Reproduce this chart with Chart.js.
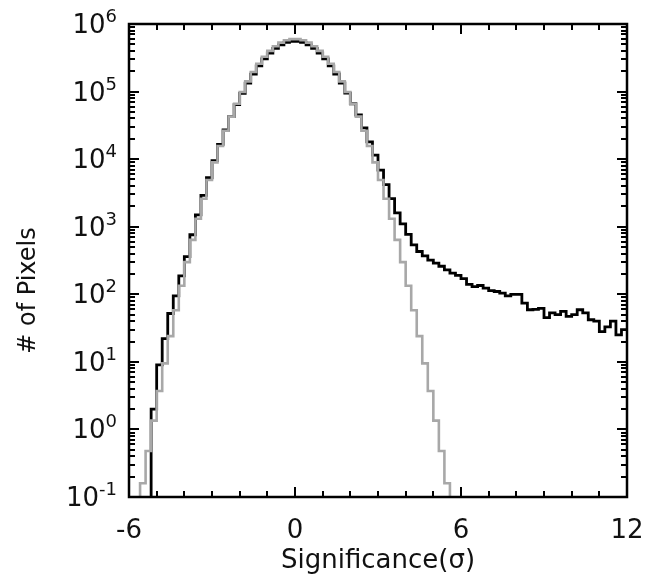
<!DOCTYPE html>
<html>
<head>
<meta charset="utf-8">
<script src="https://cdn.jsdelivr.net/npm/chart.js@4.4.1/dist/chart.umd.min.js"></script>
<style>
  html, body { margin: 0; padding: 0; background: #fff; }
  #wrap { width: 645px; height: 580px; position: relative; }
</style>
</head>
<body>
<div id="wrap"><canvas id="histChart"></canvas></div>
<script>
// histogram bins: 0.2 sigma wide, -6 .. 12
const binStart = -6;
const binWidth = 0.2;
const binCount = 90;

// observed pixel counts per bin (black)
const dataCounts = [
  0, 0, 0, 0,
  2, 9, 22, 52, 95, 187, 360, 760, 1500, 2900, 5300, 9500, 16500, 27000,
  42500, 64000, 94000, 133000, 181000, 240000, 305000, 372000, 436000,
  492000, 533000, 555000,
  555000, 533000, 492000, 436000, 372000, 305000, 240000, 182000, 134000,
  95000, 66000, 45000, 29000, 18000, 11500, 6900, 4200, 2600, 1600, 1100,
  770, 540, 430,
  370, 320, 290, 260, 230, 205, 190, 170, 140, 130, 135, 123, 113, 110,
  104, 95, 100, 100, 74, 59, 60, 62, 45, 53, 50, 56, 47, 50, 59, 53, 42,
  40, 28, 33, 40, 25, 30
];

// noise-only counts per bin (gray)
const noiseCounts = [
  0, 0, 0.16, 0.48, 1.35, 3.7, 9.5, 24, 58, 134, 299, 639, 1313, 2593,
  4915, 8950, 15670, 26360, 42600, 66180, 98700, 141400, 194800, 257800,
  327700, 400200, 469600, 529500, 573600, 597000,
  597000, 573600, 529500, 469600, 400200, 327700, 257800, 194800, 141400,
  98700, 66180, 42600, 26360, 15670, 8950, 4915, 2593, 1313, 639, 299,
  134, 58, 24, 9.5, 3.7, 1.35, 0.48, 0.16,
  0, 0, 0, 0, 0, 0, 0, 0, 0, 0, 0, 0, 0, 0, 0, 0,
  0, 0, 0, 0, 0, 0, 0, 0, 0, 0, 0, 0, 0, 0, 0, 0
];

const xTickLabels = [-6, 0, 6, 12];
const yTickExponents = [-1, 0, 1, 2, 3, 4, 5, 6];

const xMin = -6, xMax = 12;
const yMin = 0.1, yMax = 1e6;

// empty bins sit below the axis so the step drops off the frame
const EMPTY = 0.01;

function toSteps(counts) {
  const pts = counts.map((v, i) => ({ x: binStart + i * binWidth, y: v > 0 ? v : EMPTY }));
  pts.push({ x: binStart + binCount * binWidth, y: pts[pts.length - 1].y });
  return pts;
}

const FONT = '"DejaVu Sans", sans-serif';

const framePlugin = {
  id: 'frame',
  afterDraw(chart) {
    const ctx = chart.ctx;
    const { left, right, top, bottom } = chart.chartArea;
    const xs = chart.scales.x;
    const ys = chart.scales.y;
    ctx.save();
    ctx.strokeStyle = '#000';
    ctx.lineWidth = 2.5;
    ctx.strokeRect(left, top, right - left, bottom - top);

    ctx.lineWidth = 2;
    ctx.beginPath();
    // x ticks, every 1 sigma, longer every 6
    for (let v = xMin; v <= xMax; v++) {
      const px = Math.round(xs.getPixelForValue(v));
      const len = v % 6 === 0 ? 10 : 6;
      ctx.moveTo(px, bottom); ctx.lineTo(px, bottom - len);
      ctx.moveTo(px, top); ctx.lineTo(px, top + len);
    }
    // y ticks, decades plus 2..9 minors
    yTickExponents.forEach(e => {
      const base = Math.pow(10, e);
      for (let m = 1; m <= 9; m++) {
        const v = base * m;
        if (v > yMax) break;
        const py = Math.round(ys.getPixelForValue(v));
        const len = m === 1 ? 10 : 6;
        ctx.moveTo(left, py); ctx.lineTo(left + len, py);
        ctx.moveTo(right, py); ctx.lineTo(right - len, py);
      }
    });
    ctx.stroke();

    ctx.fillStyle = '#111';
    // y labels 10^n
    yTickExponents.forEach(e => {
      const py = ys.getPixelForValue(Math.pow(10, e));
      const exp = String(e);
      ctx.font = '18px ' + FONT;
      const expW = ctx.measureText(exp).width;
      ctx.font = '26px ' + FONT;
      const baseW = ctx.measureText('10').width;
      const xr = left - 12;
      ctx.textAlign = 'left';
      ctx.textBaseline = 'alphabetic';
      ctx.fillText('10', xr - expW - baseW, py + 9);
      ctx.font = '18px ' + FONT;
      ctx.fillText(exp, xr - expW, py - 2);
    });

    // x labels
    ctx.font = '26px ' + FONT;
    ctx.textAlign = 'center';
    ctx.textBaseline = 'alphabetic';
    xTickLabels.forEach(v => {
      ctx.fillText(String(v), xs.getPixelForValue(v), bottom + 41);
    });

    // axis titles
    ctx.font = '26px ' + FONT;
    ctx.fillText('Significance(\u03c3)', (left + right) / 2, bottom + 71);

    ctx.translate(35, (top + bottom) / 2 + 30);
    ctx.rotate(-Math.PI / 2);
    ctx.font = '24px ' + FONT;
    ctx.fillText('# of Pixels', 0, 0);
    ctx.restore();
  }
};

new Chart(document.getElementById('histChart'), {
  type: 'line',
  data: {
    datasets: [
      {
        label: 'Noise',
        data: toSteps(noiseCounts),
        borderColor: '#a8a8a8',
        borderWidth: 2.6,
        stepped: 'before',
        pointRadius: 0,
        order: 0,
      },
      {
        label: 'Data',
        data: toSteps(dataCounts),
        borderColor: '#000',
        borderWidth: 2.8,
        stepped: 'before',
        pointRadius: 0,
        order: 1,
      },
    ],
  },
  options: {
    responsive: true,
    maintainAspectRatio: false,
    animation: false,
    layout: { padding: { left: 129, right: 18, top: 24, bottom: 83 } },
    plugins: { legend: { display: false }, tooltip: { enabled: false } },
    scales: {
      x: { type: 'linear', min: xMin, max: xMax, display: false },
      y: { type: 'logarithmic', min: yMin, max: yMax, display: false },
    },
  },
  plugins: [framePlugin],
});
</script>
</body>
</html>
